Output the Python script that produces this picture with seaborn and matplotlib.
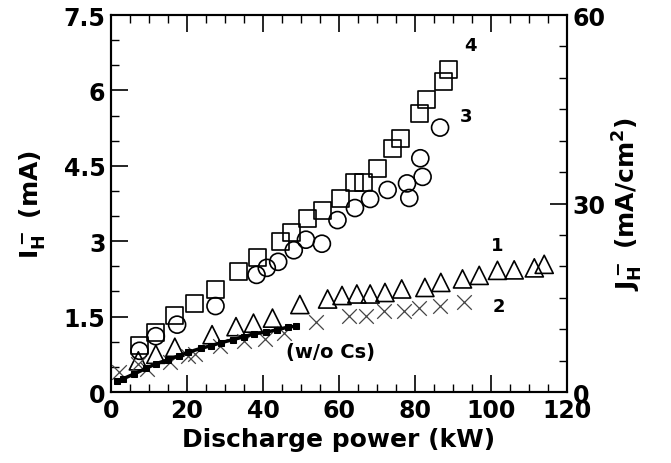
import matplotlib
matplotlib.use("Agg")
import matplotlib.pyplot as plt
import seaborn as sns
import numpy as np
from matplotlib.ticker import MultipleLocator, FixedLocator

# ---- data ----
sq_x = [7.4, 11.8, 16.6, 21.9, 27.4, 33.6, 38.6, 44.7, 47.5, 51.6, 55.7, 60.5, 64.2, 66.5,
        70.2, 74.1, 76.3, 81.1, 82.9, 87.5, 88.8]
sq_y = [0.92, 1.19, 1.52, 1.76, 2.04, 2.40, 2.67, 3.00, 3.18, 3.45, 3.62, 3.85, 4.17, 4.17,
        4.45, 4.85, 5.05, 5.55, 5.81, 6.18, 6.41]

ci_x = [7.5, 11.8, 17.4, 27.5, 38.3, 41.0, 44.0, 48.1, 51.3, 55.5, 59.6, 64.2, 68.2, 72.8,
        77.9, 78.5, 81.4, 82.0, 86.6]
ci_y = [0.82, 1.11, 1.34, 1.71, 2.33, 2.47, 2.59, 2.82, 3.03, 2.95, 3.42, 3.66, 3.84, 4.02,
        4.15, 3.86, 4.65, 4.28, 5.26]

tr_x = [7.2, 11.8, 16.8, 26.6, 32.9, 37.5, 42.5, 49.7, 57.0, 60.8, 64.7, 68.2, 72.1, 76.5,
        82.6, 86.8, 92.5, 96.9, 101.7, 106.1, 111.4, 114.0]
tr_y = [0.62, 0.75, 0.89, 1.14, 1.30, 1.37, 1.47, 1.74, 1.85, 1.92, 1.95, 1.95, 1.98, 2.05,
        2.08, 2.18, 2.25, 2.32, 2.42, 2.43, 2.47, 2.54]

cr_x = [2.2, 7.0, 9.6, 15.4, 20.2, 22.0, 28.7, 35.0, 40.4, 45.4, 53.9, 62.7, 67.0, 71.9,
        77.0, 81.1, 86.7, 93.0]
cr_y = [0.39, 0.55, 0.46, 0.59, 0.72, 0.76, 0.92, 1.02, 1.05, 1.17, 1.39, 1.51, 1.51, 1.62,
        1.62, 1.67, 1.72, 1.80]

wo_x = [1.5, 3.1, 6.1, 9.2, 11.8, 14.9, 17.9, 20.3, 23.7, 26.3, 28.9, 32.0, 35.0, 37.7,
        40.8, 43.8, 46.5, 48.7]
wo_y = [0.22, 0.26, 0.36, 0.47, 0.56, 0.64, 0.72, 0.79, 0.87, 0.92, 0.98, 1.04, 1.10, 1.16,
        1.19, 1.24, 1.29, 1.31]

x_ticks = [0, 20, 40, 60, 80, 100, 120]
y_ticks = [0, 1.5, 3, 4.5, 6, 7.5]
y_tick_labels = ["0", "1.5", "3", "4.5", "6", "7.5"]
y2_ticks = [0, 30, 60]

# ---- style ----
sns.set_style("ticks")
FONT = ["DejaVu Sans"]
plt.rcParams["font.family"] = FONT
plt.rcParams["font.weight"] = "bold"
plt.rcParams["text.color"] = "black"
plt.rcParams["axes.labelcolor"] = "black"
plt.rcParams["xtick.color"] = "black"
plt.rcParams["ytick.color"] = "black"
plt.rcParams["axes.edgecolor"] = "black"
plt.rcParams["mathtext.fontset"] = "custom"
plt.rcParams["mathtext.rm"] = "DejaVu Sans:bold"
plt.rcParams["mathtext.bf"] = "DejaVu Sans:bold"
plt.rcParams["mathtext.it"] = "DejaVu Sans:bold"

fig = plt.figure(figsize=(6.71, 4.64), dpi=100)
ax = fig.add_axes([0.1654, 0.153, 0.845 - 0.1654, 0.9655 - 0.153])

mk = dict(facecolor="none", edgecolor="black", linewidth=1.2, ax=ax, legend=False, zorder=3)
sns.scatterplot(x=sq_x, y=sq_y, marker="s", s=150, **mk)
sns.scatterplot(x=ci_x, y=ci_y, marker="o", s=150, **mk)
sns.scatterplot(x=tr_x, y=tr_y, marker="^", s=170, **mk)
sns.scatterplot(x=cr_x, y=cr_y, marker="x", s=110, color="#444444", linewidth=0.9,
                ax=ax, legend=False, zorder=3)
sns.lineplot(x=wo_x, y=wo_y, color="black", linewidth=2.5, marker="s", markersize=4.5,
             markeredgecolor="black", ax=ax, legend=False, zorder=4, sort=True)

ax.set_xlim(0, 120)
ax.set_ylim(0, 7.5)
ax.xaxis.set_major_locator(FixedLocator(x_ticks))
ax.xaxis.set_minor_locator(MultipleLocator(5))
ax.yaxis.set_major_locator(FixedLocator(y_ticks))
ax.yaxis.set_minor_locator(MultipleLocator(0.5))
ax.set_yticklabels(y_tick_labels)
ax.tick_params(which="major", direction="in", length=12, width=1.2, top=True,
               labelsize=17, pad=4)
ax.tick_params(which="minor", direction="in", length=6, width=1.0, top=True)
for sp in ax.spines.values():
    sp.set_linewidth(1.5)

ax.set_xlabel("Discharge power (kW)", fontsize=18, fontweight="bold", labelpad=4)
ax.set_ylabel(r"I$_{\rm H}^{\rm -}$ (mA)", fontsize=18, fontweight="bold", labelpad=12)

ax2 = ax.twinx()
ax2.set_ylim(0, 60)
ax2.yaxis.set_major_locator(FixedLocator(y2_ticks))
ax2.yaxis.set_minor_locator(MultipleLocator(5))
ax2.tick_params(which="major", direction="in", length=12, width=1.2, labelsize=17, pad=4)
ax2.tick_params(which="minor", direction="in", length=6, width=1.0)
ax2.set_ylabel(r"J$_{\rm H}^{\rm -}$ (mA/cm$^{\rm 2}$)", fontsize=18, fontweight="bold",
               labelpad=4)
for sp in ax2.spines.values():
    sp.set_linewidth(1.5)

# annotations
ax.text(94.5, 6.9, "4", fontsize=13, fontweight="bold", ha="center", va="center")
ax.text(93.5, 5.5, "3", fontsize=13, fontweight="bold", ha="center", va="center")
ax.text(101.5, 2.92, "1", fontsize=13, fontweight="bold", ha="center", va="center")
ax.text(102, 1.72, "2", fontsize=13, fontweight="bold", ha="center", va="center")
ax.text(46, 0.8, "(w/o Cs)", fontsize=14, fontweight="bold", ha="left", va="center")

fig.savefig("out.png", dpi=100)
